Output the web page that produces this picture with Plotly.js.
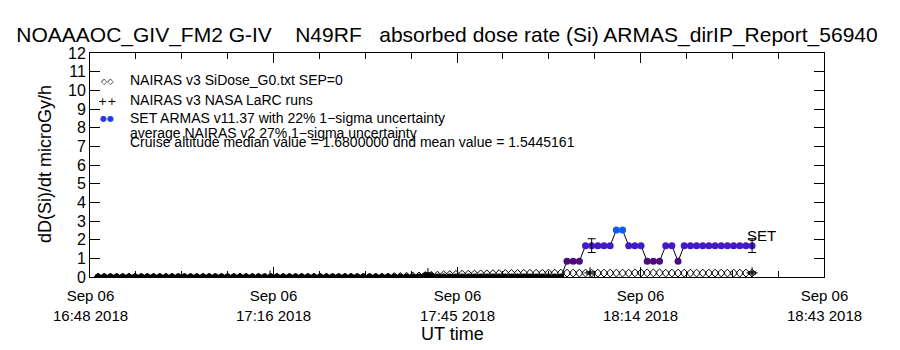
<!DOCTYPE html>
<html><head><meta charset="utf-8">
<script src="https://cdn.plot.ly/plotly-3.0.1.min.js"></script>
<style>html,body{margin:0;padding:0;background:#fff}#chart{width:900px;height:350px}</style>
</head><body><div id="chart"></div>
<script>
// ---------------- data ----------------
const flightDate = '2018-09-06';

// sample times (UT) shared by ARMAS and NAIRAS SiDose series
const sampleTimes = [
 '16:49:16','16:50:14','16:51:12','16:52:10','16:53:08','16:54:06','16:55:04','16:56:02','16:57:00','16:57:58',
 '16:58:56','16:59:54','17:00:52','17:01:50','17:02:48','17:03:46','17:04:44','17:05:42','17:06:40','17:07:38',
 '17:08:36','17:09:34','17:10:32','17:11:30','17:12:28','17:13:26','17:14:24','17:15:22','17:16:20','17:17:18',
 '17:18:16','17:19:14','17:20:12','17:21:10','17:22:08','17:23:06','17:24:04','17:25:02','17:26:00','17:26:58',
 '17:27:56','17:28:54','17:29:52','17:30:50','17:31:48','17:32:46','17:33:44','17:34:42','17:35:40','17:36:38',
 '17:37:36','17:38:34','17:39:32','17:40:30','17:41:28','17:42:26','17:43:24','17:44:22','17:45:20','17:46:18',
 '17:47:16','17:48:14','17:49:12','17:50:10','17:51:08','17:52:06','17:53:04','17:54:02','17:55:00','17:55:58',
 '17:56:56','17:57:54','17:58:52','17:59:50','18:00:48','18:01:46','18:02:44','18:03:42','18:04:40','18:05:38',
 '18:06:36','18:07:34','18:08:32','18:09:30','18:10:28','18:11:26','18:12:24','18:13:22','18:14:20','18:15:18',
 '18:16:16','18:17:14','18:18:12','18:19:10','18:20:08','18:21:06','18:22:04','18:23:02','18:24:00','18:24:58',
 '18:25:56','18:26:54','18:27:52','18:28:50','18:29:48','18:30:46','18:31:44'
];

// SET ARMAS v11.37 absorbed dose rate (microGy/h)
const armasDose = [
 0,0,0,0,0,0,0,0,0,0, 0,0,0,0,0,0,0,0,0,0, 0,0,0,0,0,0,0,0,0,0,
 0,0,0,0,0,0,0,0,0,0, 0,0,0,0,0,0,0,0,0,0, 0,0,0,0,0,0,0,0,0,0,
 0,0,0,0,0,0,0,0,0,0, 0,0,0,0,0,0,
 0.84,0.84,0.84, 1.68,1.68,1.68,1.68,1.68, 2.52,2.52, 1.68,1.68,1.68,
 0.84,0.84,0.84, 1.68,1.68, 0.84,
 1.68,1.68,1.68,1.68,1.68,1.68,1.68,1.68,1.68,1.68,1.68,1.68
];

// NAIRAS v3 SiDose_G0.txt SEP=0 (microGy/h)
const nairasDose = [
 0,0,0,0,0,0,0,0,0,0, 0,0,0,0,0,0,0,0,0,0, 0,0,0,0,0,0,0,0,0,0,
 0,0,0,0,0,0,0,0,0,0, 0,0,0,0,0,0,0,0,
 0.02,0.03,0.04,0.05,0.06,0.08,0.09,0.10,
 0.12,0.13,0.14,0.15,0.15,0.16,0.17,0.17,0.18,0.18,0.19,0.19,0.19,0.20,0.20,0.20,0.20,0.21,0.21,0.21,
 0.21,0.21,0.21,0.21,0.21,0.21,0.21,0.21,0.21,0.21,0.21,0.22,0.22,0.22,0.22,0.22,
 0.21,0.21,0.21,0.21,0.21,0.21,0.21,0.21,0.21,0.21,0.21,0.21,0.21,0.21,0.21
];

// NAIRAS v3 NASA LaRC runs
const larcTimes = ['17:16:12','17:40:57','18:06:20','18:31:44'];
const larcDose  = [0.05, 0.18, 0.22, 0.22];

// ARMAS samples carrying the 22% uncertainty bar
const armasErrIndex = [80, 106];
const armasUncert = 0.22;
const nairasUncert = 0.27;

// axis ticks
const xTickTimes = ['16:48:00','17:16:45','17:45:30','18:14:15','18:43:00'];
const xTickDay   = ['Sep 06','Sep 06','Sep 06','Sep 06','Sep 06'];
const xTickClock = ['16:48 2018','17:16 2018','17:45 2018','18:14 2018','18:43 2018'];
const xMinorTimes = ['16:55:11','17:02:22','17:09:34','17:23:56','17:31:08','17:38:19',
                     '17:52:41','17:59:52','18:07:04','18:21:26','18:28:38','18:35:49'];
const yTickVals = [0,1,2,3,4,5,6,7,8,9,10,11,12];

// texts
const chartTitle = 'NOAAAOC_GIV_FM2 G-IV\u00a0\u00a0\u00a0\u00a0N49RF\u00a0\u00a0\u00a0absorbed dose rate (Si) ARMAS_dirIP_Report_56940';
const yTitle = 'dD(Si)/dt microGy/h';
const xTitle = 'UT time';
const legendLabels = ['NAIRAS v3 SiDose_G0.txt SEP=0','NAIRAS v3 NASA LaRC runs','SET ARMAS v11.37 with 22% 1\u2212sigma uncertainty'];
const noteLines = ['average NAIRAS v2 27% 1\u2212sigma uncertainty','Cruise altitude median value = 1.6800000 dnd mean value = 1.5445161'];
const seriesTag = 'SET';

// ---------------- styling / build ----------------
const T = s => flightDate + ' ' + s;
const FONT = 'Liberation Sans, Arial, sans-serif';
function armasColor(v){
  if (v <= 0) return '#000000';
  if (v < 1.2) return '#4b0b7c';
  if (v < 2.1) return '#4319c8';
  return '#0b5cf2';
}
const L = 90, R = 76, TOP = 53, B = 73, W = 900, H = 350;
const pw = W - L - R, ph = H - TOP - B;
const px = x => (x - L) / pw;
const py = y => (H - B - y) / ph;

const xs = sampleTimes.map(T);

const traces = [
  { x: xs, y: nairasDose, type: 'scatter', mode: 'markers', hoverinfo: 'skip',
    marker: { symbol: 'diamond-open', size: 6, color: '#000', line: { width: 1, color: '#000' } } },
  { x: larcTimes.map(T), y: larcDose, type: 'scatter', mode: 'markers', hoverinfo: 'skip',
    marker: { symbol: 'cross-thin-open', size: 8, color: '#000', line: { width: 1, color: '#000' } },
    error_y: { type: 'data', array: larcDose.map(v => v * nairasUncert), visible: true, color: '#000', thickness: 1, width: 4 } },
  { x: xs, y: armasDose, type: 'scatter', mode: 'lines+markers', hoverinfo: 'skip',
    line: { color: '#000', width: 1 },
    marker: { symbol: 'circle', size: 7, color: armasDose.map(armasColor), line: { width: 0 } } },
  { x: armasErrIndex.map(i => xs[i]), y: armasErrIndex.map(i => armasDose[i]), type: 'scatter', mode: 'markers', hoverinfo: 'skip',
    marker: { size: 1, opacity: 0 },
    error_y: { type: 'data', array: armasErrIndex.map(i => armasDose[i] * armasUncert), visible: true, color: '#000', thickness: 1, width: 4 } }
];

const ann = [];
// legend symbols + labels
const legendY = [80, 100, 118];
const legendSym = [
  { t: '\u25C7\u25C7', c: '#000', s: 8 },
  { t: '++', c: '#000', s: 11 },
  { t: '\u25CF\u25CF', c: '#1a3ff0', s: 8 }
];
legendLabels.forEach((lab, i) => {
  ann.push({ xref: 'paper', yref: 'paper', x: px(107), y: py(legendY[i] + 1), text: legendSym[i].t, showarrow: false,
             xanchor: 'center', yanchor: 'middle', font: { family: 'DejaVu Sans', size: legendSym[i].s, color: legendSym[i].c } });
  ann.push({ xref: 'paper', yref: 'paper', x: px(128), y: py(legendY[i]), text: lab, showarrow: false,
             xanchor: 'left', yanchor: 'middle', font: { family: FONT, size: 14, color: '#000' } });
});
const noteY = [132.5, 141.5];
noteLines.forEach((t, i) => ann.push({ xref: 'paper', yref: 'paper', x: px(128), y: py(noteY[i]), text: t, showarrow: false,
  xanchor: 'left', yanchor: 'middle', font: { family: FONT, size: 14, color: '#000' } }));
// series tag at last ARMAS sample
const last = xs.length - 1;
ann.push({ x: xs[last], y: armasDose[last], text: seriesTag, showarrow: false, xanchor: 'left', yanchor: 'bottom',
  xshift: -7, yshift: 0, font: { family: FONT, size: 15, color: '#000' } });
// x tick labels (two rows, IDL style)
xTickTimes.forEach((t, i) => {
  ann.push({ x: T(t), xref: 'x', yref: 'paper', y: py(305), text: xTickDay[i] + '<br>' + xTickClock[i], showarrow: false,
    xanchor: 'center', yanchor: 'middle', align: 'center', font: { family: FONT, size: 15, color: '#000' } });
});
// axis titles
ann.push({ xref: 'paper', yref: 'paper', x: px(45), y: py(164), text: yTitle, textangle: -90, showarrow: false,
  xanchor: 'center', yanchor: 'middle', font: { family: FONT, size: 18, color: '#000' } });
ann.push({ xref: 'paper', yref: 'paper', x: px(452), y: py(334), text: xTitle, showarrow: false,
  xanchor: 'center', yanchor: 'middle', font: { family: FONT, size: 18, color: '#000' } });

const layout = {
  width: W, height: H,
  margin: { l: L, r: R, t: TOP, b: B, pad: 0 },
  paper_bgcolor: '#fff', plot_bgcolor: '#fff',
  showlegend: false,
  title: { text: chartTitle, font: { family: FONT, size: 21, color: '#000' },
           xref: 'container', yref: 'container', x: 447 / W, y: 1 - 35 / H, xanchor: 'center', yanchor: 'middle' },
  xaxis: {
    type: 'date',
    range: [T(xTickTimes[0]), T(xTickTimes[xTickTimes.length - 1])],
    tickmode: 'array', tickvals: xTickTimes.map(T), showticklabels: false,
    ticks: 'inside', ticklen: 10, tickwidth: 1, tickcolor: '#000',
    minor: { tickmode: 'array', tickvals: xMinorTimes.map(T), ticks: 'inside', ticklen: 6, tickwidth: 1, tickcolor: '#000', showgrid: false },
    showline: true, linecolor: '#000', linewidth: 1, mirror: 'ticks',
    showgrid: false, zeroline: false
  },
  yaxis: {
    range: [0, 12], tickmode: 'array', tickvals: yTickVals, ticktext: yTickVals.map(String),
    ticks: 'inside', ticklen: 10, tickwidth: 1, tickcolor: '#000',
    showline: true, linecolor: '#000', linewidth: 1, mirror: 'ticks',
    showgrid: false, zeroline: false,
    tickfont: { family: FONT, size: 16, color: '#000' }
  },
  annotations: ann
};

Plotly.newPlot('chart', traces, layout, { staticPlot: true, displayModeBar: false });
</script>
</body></html>
